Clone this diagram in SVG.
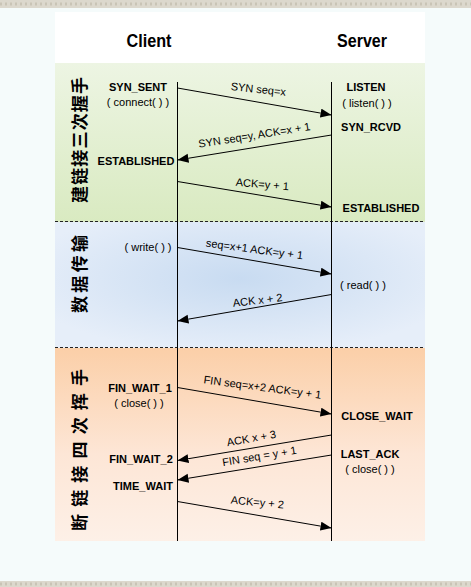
<svg xmlns="http://www.w3.org/2000/svg" width="471" height="587" viewBox="0 0 471 587">
<style>
.b{font-family:"Liberation Sans",Arial,sans-serif;font-weight:bold;font-size:11px;fill:#000;text-anchor:middle}
.r{font-family:"Liberation Sans",Arial,sans-serif;font-size:11px;fill:#000;text-anchor:middle}
.h{font-family:"Liberation Sans",Arial,sans-serif;font-weight:bold;font-size:18px;fill:#000;text-anchor:middle}
.v{font-family:"Noto Sans CJK SC","Noto Sans CJK TC",sans-serif;font-weight:bold;font-size:17px;fill:#000;text-anchor:middle}
.life{stroke:#000;stroke-width:1}
.msg{stroke:#000;stroke-width:1;fill:none;marker-end:url(#ah)}
.sep{stroke:#222;stroke-width:1;stroke-dasharray:3 2}
</style>
<defs>
<marker id="ah" markerUnits="userSpaceOnUse" markerWidth="12" markerHeight="10" refX="11" refY="4.5" orient="auto">
<path d="M0,0 L11,4.5 L0,9 z" fill="#000"/>
</marker>
<linearGradient id="gGreen" x1="0" y1="0" x2="0" y2="1">
<stop offset="0" stop-color="#edf5e3"/>
<stop offset="1" stop-color="#d9eac1"/>
</linearGradient>
<radialGradient id="gBlue" cx="0.5" cy="0.45" r="0.6">
<stop offset="0" stop-color="#c8dbf1"/>
<stop offset="1" stop-color="#e6eef9"/>
</radialGradient>
<linearGradient id="gOrange" x1="0" y1="0" x2="0" y2="1">
<stop offset="0" stop-color="#fbcfa8"/>
<stop offset="0.55" stop-color="#fde6d6"/>
<stop offset="1" stop-color="#fdf0e7"/>
</linearGradient>
</defs>

<rect x="0" y="0" width="471" height="587" fill="#f5fbfb"/>
<rect x="0" y="0" width="471" height="8" fill="#dcd8cd"/>
<line x1="0" y1="4" x2="471" y2="4" stroke="#c9c4b6" stroke-width="3" stroke-dasharray="2 3"/>
<rect x="0" y="581" width="471" height="6" fill="#dcd8cd"/>
<line x1="0" y1="584" x2="471" y2="584" stroke="#c9c4b6" stroke-width="3" stroke-dasharray="2 3"/>

<rect x="55" y="12" width="370" height="51" fill="#ffffff"/>
<rect x="55" y="63" width="370" height="159" fill="url(#gGreen)"/>
<rect x="55" y="222" width="370" height="126" fill="url(#gBlue)"/>
<rect x="55" y="348" width="370" height="193" fill="url(#gOrange)"/>
<line class="sep" x1="55" y1="221.5" x2="425" y2="221.5"/>
<line class="sep" x1="55" y1="347.5" x2="425" y2="347.5"/>

<g id="phase-labels">
<text class="v" transform="translate(86,140) rotate(-90)" textLength="126" lengthAdjust="spacing">建链接三次握手</text>
<text class="v" transform="translate(86,274) rotate(-90)" textLength="78" lengthAdjust="spacing">数据传输</text>
<text class="v" transform="translate(86,450) rotate(-90)" textLength="162" lengthAdjust="spacing">断链接四次挥手</text>
</g>

<g id="client">
<text class="h" x="149" y="47" textLength="45" lengthAdjust="spacingAndGlyphs">Client</text>
<line class="life" x1="177.5" y1="82" x2="177.5" y2="541"/>
</g>
<g id="server">
<text class="h" x="362" y="47" textLength="50" lengthAdjust="spacingAndGlyphs">Server</text>
<line class="life" x1="331.5" y1="82" x2="331.5" y2="541"/>
</g>

<g id="client-states">
<text class="b" x="138" y="91">SYN_SENT</text>
<text class="r" x="138" y="106">( connect( ) )</text>
<text class="b" x="136" y="165">ESTABLISHED</text>
<text class="r" x="148" y="251">( write( ) )</text>
<text class="b" x="140" y="392">FIN_WAIT_1</text>
<text class="r" x="139" y="407">( close( ) )</text>
<text class="b" x="141" y="463">FIN_WAIT_2</text>
<text class="b" x="143" y="490">TIME_WAIT</text>
</g>

<g id="server-states">
<text class="b" x="366" y="91">LISTEN</text>
<text class="r" x="367" y="107">( listen( ) )</text>
<text class="b" x="371" y="131">SYN_RCVD</text>
<text class="b" x="381" y="212">ESTABLISHED</text>
<text class="r" x="363" y="289">( read( ) )</text>
<text class="b" x="377" y="420">CLOSE_WAIT</text>
<text class="b" x="370" y="458">LAST_ACK</text>
<text class="r" x="370" y="473">( close( ) )</text>
</g>

<g id="connectors">
<line class="msg" x1="177.5" y1="88" x2="331.5" y2="115"/>
<line class="msg" x1="331.5" y1="135" x2="177.5" y2="160"/>
<line class="msg" x1="177.5" y1="181.5" x2="331.5" y2="207"/>
<line class="msg" x1="177.5" y1="247.5" x2="331.5" y2="274"/>
<line class="msg" x1="331.5" y1="294.5" x2="177.5" y2="321"/>
<line class="msg" x1="177.5" y1="387.5" x2="331.5" y2="414"/>
<line class="msg" x1="331.5" y1="435" x2="177.5" y2="460.5"/>
<line class="msg" x1="331.5" y1="455" x2="177.5" y2="480"/>
<line class="msg" x1="177.5" y1="501.5" x2="331.5" y2="528"/>
<text class="r" transform="translate(258,93) rotate(6)">SYN seq=x</text>
<text class="r" transform="translate(255,139) rotate(-9)">SYN seq=y, ACK=x + 1</text>
<text class="r" transform="translate(262,188) rotate(4.6)">ACK=y + 1</text>
<text class="r" transform="translate(254,253) rotate(7.5)">seq=x+1 ACK=y + 1</text>
<text class="r" transform="translate(258,304) rotate(-6.5)">ACK x + 2</text>
<text class="r" transform="translate(262,391) rotate(7.5)">FIN seq=x+2 ACK=y + 1</text>
<text class="r" transform="translate(252,442) rotate(-10)">ACK x + 3</text>
<text class="r" transform="translate(260,460) rotate(-9.4)">FIN seq = y + 1</text>
<text class="r" transform="translate(257,506) rotate(5.5)">ACK=y + 2</text>
</g>
</svg>
